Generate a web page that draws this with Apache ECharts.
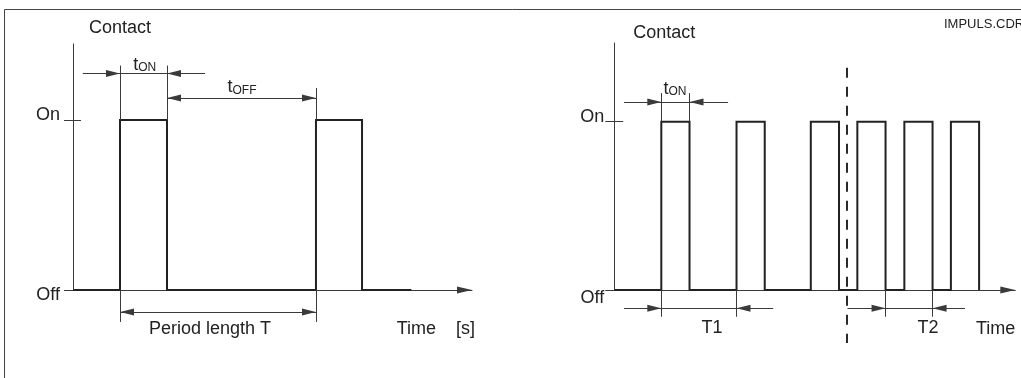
<!DOCTYPE html>
<html><head><meta charset="utf-8">
<script src="https://cdn.jsdelivr.net/npm/echarts@6/dist/echarts.min.js"></script>
<style>html,body{margin:0;padding:0;background:#fff}#c{width:1021px;height:378px}</style>
</head><body><div id="c"></div>
<script>
// ---------------- data ----------------
const levelValues = [0, 1];               // Off, On
const levelNames = ['Off', 'On'];
// left diagram: pulse start times, on-durations, end of trace
const leftRises = [10, 51.7];
const leftOnTimes = [10, 9.8];
const leftTraceEnd = 72;
// right diagram: pulse start times, on-duration
const rightRises = [10, 26, 41.8, 51.7, 61.7, 71.6];
const rightOnTime = 6;
const rightChangeTime = 49.45;          // dashed line: period changes T1 -> T2
const axisXMax = [84.9, 85.3];
const axisYMax = [1.45, 1.47];
const axisYMin = -0.4;

// ---------------- helpers ----------------
const FONT = 'Liberation Sans, Arial, Helvetica, sans-serif';
const INK = '#222';
const THIN = '#3a3a3a';

function trace(rises, onTimes, end) {
  const pts = [[0, 0]];
  let last = 0;
  rises.forEach((r, i) => {
    const f = r + onTimes[i];
    pts.push([r, 0], [r, 1], [f, 1], [f, 0]);
    last = f;
  });
  if (end != null && end > last) pts.push([end, 0]);
  return pts;
}
function end(x, y, s) {
  const o = { coord: [x, y], symbol: s || 'none' };
  if (s && s !== 'none') { o.symbolSize = [7, 14]; o.symbolOffset = [0, 7]; }
  return o;
}
function seg(x1, y1, x2, y2, s1, s2, style) {
  const a = end(x1, y1, s1);
  if (style) a.lineStyle = style;
  return [a, end(x2, y2, s2)];
}
const A = 'triangle';

const lF = leftRises.map((r, i) => r + leftOnTimes[i]);
const rF = rightRises.map(r => r + rightOnTime);

// left annotations (y levels are drawing layout)
const leftLines = [
  seg(0, 0, 0, axisYMax[0]),
  seg(0, 1, 1.7, 1),
  seg(leftRises[0], 1, leftRises[0], 1.32),
  seg(lF[0], 1, lF[0], 1.32),
  seg(2.1, 1.274, leftRises[0], 1.274, 'none', A),
  seg(leftRises[0], 1.274, lF[0], 1.274),
  seg(28.1, 1.274, lF[0], 1.274, 'none', A),
  seg(leftRises[1], 1, leftRises[1], 1.188),
  seg(lF[0], 1.129, leftRises[1], 1.129, A, A),
  seg(leftRises[0], 0, leftRises[0], -0.188),
  seg(leftRises[1], 0, leftRises[1], -0.188),
  seg(leftRises[0], -0.129, leftRises[1], -0.129, A, A)
];
const leftTexts = [
  { name: '{t|t}{s|ON}', coord: [15.25, 1.332] },
  { name: '{t|t}{s|OFF}', coord: [35.96, 1.197] },
  { name: 'Period length T', coord: [29.15, -0.23] }
];

const dashStyle = { color: '#2a2a2a', width: 2, type: [10, 9] };
const rightLines = [
  seg(0, 0, 0, axisYMax[1]),
  seg(0, 1, 1.9, 1),
  seg(rightRises[0], 1, rightRises[0], 1.17),
  seg(rF[0], 1, rF[0], 1.17),
  seg(2.06, 1.117, rightRises[0], 1.117, 'none', A),
  seg(rightRises[0], 1.117, rF[0], 1.117),
  seg(24.2, 1.117, rF[0], 1.117, 'none', A),
  seg(rightRises[0], 0, rightRises[0], -0.159),
  seg(rightRises[1], 0, rightRises[1], -0.159),
  seg(2.06, -0.109, rightRises[0], -0.109, 'none', A),
  seg(rightRises[0], -0.109, rightRises[1], -0.109),
  seg(33.8, -0.109, rightRises[1], -0.109, 'none', A),
  seg(rF[3], 0, rF[3], -0.159),
  seg(rF[4], 0, rF[4], -0.159),
  seg(49.6, -0.109, rF[3], -0.109, 'none', A),
  seg(rF[3], -0.109, rF[4], -0.109),
  seg(74.6, -0.109, rF[4], -0.109, 'none', A),
  seg(rightChangeTime, 1.32, rightChangeTime, -0.315, 'none', 'none', dashStyle)
];
const rightTexts = [
  { name: '{t|t}{s|ON}', coord: [12.9, 1.20] },
  { name: 'T1', coord: [20.8, -0.226] },
  { name: 'T2', coord: [66.75, -0.226] }
];

const rich = {
  t: { fontSize: 18, lineHeight: 20, verticalAlign: 'bottom', color: INK, fontFamily: FONT },
  s: { fontSize: 12, lineHeight: 14, verticalAlign: 'bottom', color: INK, fontFamily: FONT }
};

function xAxis(i, name) {
  return {
    type: 'value', gridIndex: i, min: 0, max: axisXMax[i],
    axisLine: { show: true, onZero: true, symbol: ['none', 'triangle'], symbolSize: [7, 15], symbolOffset: [0, -7.5],
      lineStyle: { color: THIN, width: 1 } },
    axisTick: { show: false }, axisLabel: { show: false }, splitLine: { show: false },
    name: name, nameLocation: 'end', nameGap: i === 0 ? 3 : 0,
    nameTextStyle: { fontFamily: FONT, fontSize: 18, color: INK, align: 'right', verticalAlign: 'top', padding: [30, 0, 0, 0] }
  };
}
function yAxis(i) {
  const offRich = i === 0 ? [10, 0, 0, 0] : [16, 0, 0, 0];
  return {
    type: 'value', gridIndex: i, min: axisYMin, max: axisYMax[i],
    axisLine: { show: false },
    axisTick: { show: true, customValues: levelValues, length: 9, lineStyle: { color: THIN, width: 1 } },
    axisLabel: { show: true, customValues: levelValues, margin: i === 0 ? 13 : 10,
      formatter: v => (v === 1 ? '{on|' + levelNames[1] + '}' : '{off|' + levelNames[0] + '}'),
      rich: {
        on: { fontSize: 18, color: INK, fontFamily: FONT, padding: [0, 0, 10, 0] },
        off: { fontSize: 18, color: INK, fontFamily: FONT, padding: offRich }
      } },
    splitLine: { show: false },
    name: 'Contact', nameLocation: 'end', nameGap: i === 0 ? 6 : 1,
    nameTextStyle: { fontFamily: FONT, fontSize: 18, color: INK, align: 'left', verticalAlign: 'bottom',
      padding: [0, 0, 0, i === 0 ? 16 : 19] }
  };
}
function signalSeries(i, data, lines, texts) {
  return {
    type: 'line', xAxisIndex: i, yAxisIndex: i, data: data, showSymbol: false, clip: false,
    lineStyle: { color: INK, width: 2, join: 'miter', cap: 'butt' },
    silent: true, animation: false,
    markLine: {
      silent: true, animation: false,
      itemStyle: { color: '#222' },
      label: { show: false }, emphasis: { disabled: true },
      lineStyle: { color: THIN, width: 1, type: 'solid' },
      data: lines
    },
    markPoint: {
      silent: true, animation: false, symbol: 'circle', symbolSize: 1,
      itemStyle: { color: 'rgba(0,0,0,0)' },
      label: { show: true, position: 'inside', formatter: '{b}', color: INK, fontSize: 18, fontFamily: FONT, rich: rich },
      emphasis: { disabled: true },
      data: texts
    }
  };
}

const chart = echarts.init(document.getElementById('c'), null, { renderer: 'canvas' });
chart.setOption({
  animation: false,
  backgroundColor: '#fff',
  textStyle: { fontFamily: FONT },
  title: { text: 'IMPULS.CDR', left: 944, top: 18, textStyle: { fontSize: 13, fontWeight: 'normal', color: INK, fontFamily: FONT }, padding: 0 },
  graphic: [{ type: 'polyline', silent: true, shape: { points: [[4.5, 378], [4.5, 9.5], [1021, 9.5]] },
    style: { stroke: '#444', lineWidth: 1, fill: null } }],
  grid: [
    { left: 73, top: 43.5, width: 399, height: 314.5, outerBoundsMode: 'none', containLabel: false },
    { left: 614.3, top: 42.6, width: 401, height: 314.7, outerBoundsMode: 'none', containLabel: false }
  ],
  xAxis: [xAxis(0, 'Time    [s]'), xAxis(1, 'Time')],
  yAxis: [yAxis(0), yAxis(1)],
  series: [
    signalSeries(0, trace(leftRises, leftOnTimes, leftTraceEnd), leftLines, leftTexts),
    signalSeries(1, trace(rightRises, rightRises.map(() => rightOnTime), null), rightLines, rightTexts)
  ]
});
</script>
</body></html>
